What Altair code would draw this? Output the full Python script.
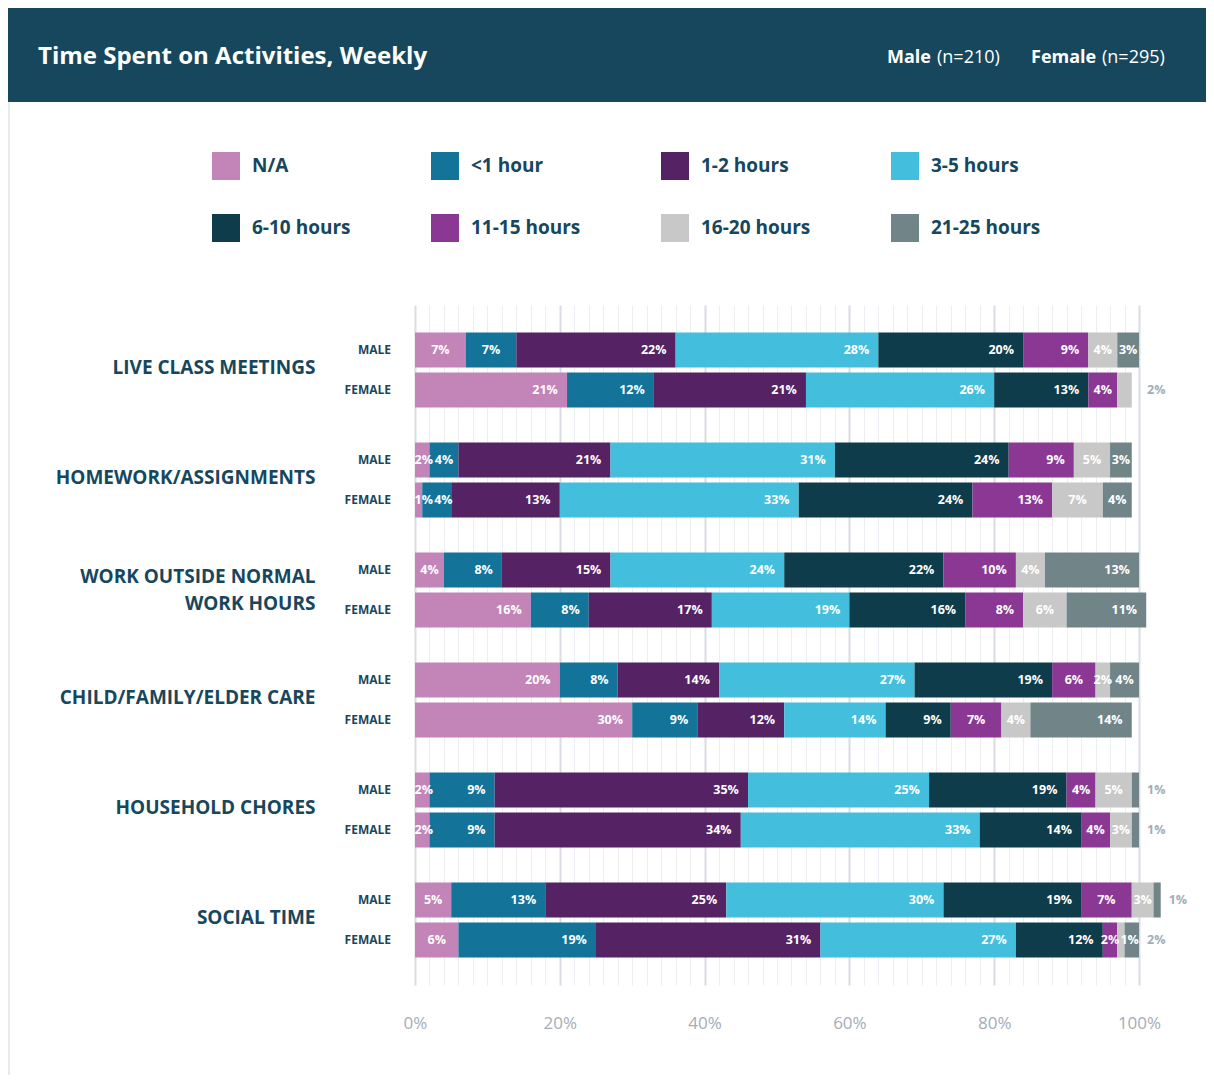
import altair as alt
import pandas as pd

# ---------------- data ----------------
activities = [
    "LIVE CLASS MEETINGS",
    "HOMEWORK/ASSIGNMENTS",
    "WORK OUTSIDE NORMAL|WORK HOURS",
    "CHILD/FAMILY/ELDER CARE",
    "HOUSEHOLD CHORES",
    "SOCIAL TIME",
]
genders = ["MALE", "FEMALE"]
categories = ["N/A", "<1 hour", "1-2 hours", "3-5 hours",
              "6-10 hours", "11-15 hours", "16-20 hours", "21-25 hours"]
colors = ["#c384b7", "#137399", "#552264", "#43bfdd",
          "#0f3c4a", "#8a3894", "#c8c8c8", "#718589"]

male_values = [
    [7, 7, 22, 28, 20, 9, 4, 3],
    [2, 4, 21, 31, 24, 9, 5, 3],
    [4, 8, 15, 24, 22, 10, 4, 13],
    [20, 8, 14, 27, 19, 6, 2, 4],
    [2, 9, 35, 25, 19, 4, 5, 1],
    [5, 13, 25, 30, 19, 7, 3, 1],
]
female_values = [
    [21, 12, 21, 26, 13, 4, 2, 0],
    [1, 4, 15, 33, 24, 11, 7, 4],
    [16, 8, 17, 19, 16, 8, 6, 11],
    [30, 9, 12, 14, 9, 7, 4, 14],
    [2, 9, 34, 33, 14, 4, 3, 1],
    [6, 19, 31, 27, 12, 2, 1, 2],
]
# printed labels that differ from the drawn bar lengths
female_printed = {1: [1, 4, 13, 33, 24, 13, 7, 4]}

header_title = "Time Spent on Activities, Weekly"
header_bits = [("Male", "bold"), ("(n=210)", "normal"), ("Female", "bold"), ("(n=295)", "normal")]

# ---------------- table ----------------
PLOT_W = 724
PX = PLOT_W / 100.0            # pixels per percent


def text_w(s):                 # rough width (in %) of a bold 12.5px label
    return (len(s) * 7.3) / PX


records = []
for ai, act in enumerate(activities):
    for g, table in (("MALE", male_values), ("FEMALE", female_values)):
        vals = table[ai]
        printed = female_printed.get(ai) if g == "FEMALE" else None
        printed = printed or vals
        last = max(i for i, v in enumerate(vals) if v > 0)
        cum = 0
        prev_right = 0.2 - 5 / PX
        for ci, (cat, v) in enumerate(zip(categories, vals)):
            if v <= 0:
                continue
            start, end = cum, cum + v
            cum = end
            lab = f"{printed[ci]}%"
            w = text_w(lab)
            if ci == last and v <= 2:
                pos = "outside"
                cx = max(end, 100)
            else:
                pos = "inside"
                if v >= 8:
                    cx = end - (11 / PX) - w / 2
                else:
                    cx = (start + end) / 2
                min_left = prev_right + 5 / PX
                if cx - w / 2 < min_left:
                    cx = min_left + w / 2
                prev_right = cx + w / 2
            records.append(dict(activity=act, gender=g, category=cat,
                                start=start, end=end, lx=cx, label=lab, pos=pos))
df = pd.DataFrame(records)
gender_df = pd.DataFrame([dict(activity=a, gender=g) for a in activities for g in genders])

DARK = "#17475d"
GRAY = "#a3adb8"
FONT = "Open Sans"

Y = alt.Y("activity:N", sort=activities,
          scale=alt.Scale(paddingInner=0.318, paddingOuter=0.25),
          axis=alt.Axis(title=None, ticks=False, domain=False, labelPadding=100,
                        labelFont=FONT, labelFontSize=19, labelFontWeight="bold",
                        labelColor=DARK, labelLimit=0, labelAlign="right",
                        labelBaseline="middle", labelLineHeight=27,
                        labelOffset={"condition": {"test": "indexof(datum.value, '|') >= 0",
                                                   "value": -13.5}, "value": -2},
                        labelExpr="split(datum.label, '|')"))
YO = alt.YOffset("gender:N", sort=genders, scale=alt.Scale(paddingInner=0.125))

XAXIS = alt.Axis(title=None, values=list(range(0, 101, 2)),
                 labelExpr="datum.value % 20 === 0 ? datum.value + '%' : ''",
                 labelOverlap=False, labelFlush=False, labelBound=False,
                 grid=True,
                 gridColor={"condition": {"test": "datum.value % 20 === 0", "value": "#d9dce2"},
                            "value": "#eceef2"},
                 gridWidth={"condition": {"test": "datum.value % 20 === 0", "value": 2},
                            "value": 1},
                 ticks=False, domain=False, labelPadding=30,
                 labelFont=FONT, labelFontSize=17, labelColor=GRAY)
XSCALE = alt.Scale(domain=[0, 100], nice=False)


def X(field):
    return alt.X(field, type="quantitative", scale=XSCALE, axis=XAXIS)


base = alt.Chart(df)

bars = base.mark_bar().encode(
    x=X("start"), x2="end:Q", y=Y, yOffset=YO,
    color=alt.Color("category:N", scale=alt.Scale(domain=categories, range=colors),
                    legend=alt.Legend(title=None, orient="none", legendX=-203, legendY=-153,
                                      direction="horizontal", columns=4,
                                      symbolType="square", symbolSize=784,
                                      symbolStrokeWidth=0, symbolOpacity=1,
                                      labelFont=FONT, labelFontSize=19, labelFontWeight="bold",
                                      labelColor=DARK, labelOffset=12, labelLimit=0,
                                      columnPadding=80, rowPadding=34, padding=0)),
)

txt_style = dict(baseline="middle", font=FONT, fontWeight="bold", fontSize=12.5)

lab_in = base.transform_filter(alt.datum.pos == "inside").mark_text(
    align="center", color="white", **txt_style
).encode(x=X("lx"), y=Y, yOffset=YO, text="label:N")

lab_out = base.transform_filter(alt.datum.pos == "outside").mark_text(
    align="left", dx=8, color=GRAY, **txt_style
).encode(x=X("lx"), y=Y, yOffset=YO, text="label:N")

gender_labels = alt.Chart(gender_df).mark_text(
    align="right", baseline="middle", font=FONT, fontWeight="bold", fontSize=12, color=DARK
).encode(x=alt.value(-24), y=Y, yOffset=YO, text="gender:N")

one = pd.DataFrame({"k": [0]})
header_rect = alt.Chart(one).mark_rect(color=DARK).encode(
    x=alt.value(-407), x2=alt.value(791), y=alt.value(-297), y2=alt.value(-203))
left_border = alt.Chart(one).mark_rule(color="#e3e3e3", strokeWidth=1.5).encode(
    x=alt.value(-406), y=alt.value(-203), y2=alt.value(770))
title_txt = alt.Chart(one).mark_text(
    align="left", baseline="middle", font=FONT, fontWeight="bold", fontSize=24,
    color="white", text=header_title
).encode(x=alt.value(-377), y=alt.value(-248))

bit_x = [472, 522, 616, 687]
bit_layers = []
for (t, w), bx in zip(header_bits, bit_x):
    bit_layers.append(alt.Chart(one).mark_text(
        align="left", baseline="middle", font=FONT, fontWeight=w, fontSize=18,
        color="white", text=t
    ).encode(x=alt.value(bx), y=alt.value(-247)))

chart = alt.layer(
    header_rect, left_border, title_txt, *bit_layers,
    bars, lab_in, lab_out, gender_labels
).properties(width=PLOT_W, height=680, padding=0, background="white"
).configure_view(stroke=None)

chart.save("out.html", embed_options={"renderer": "svg", "actions": False})
